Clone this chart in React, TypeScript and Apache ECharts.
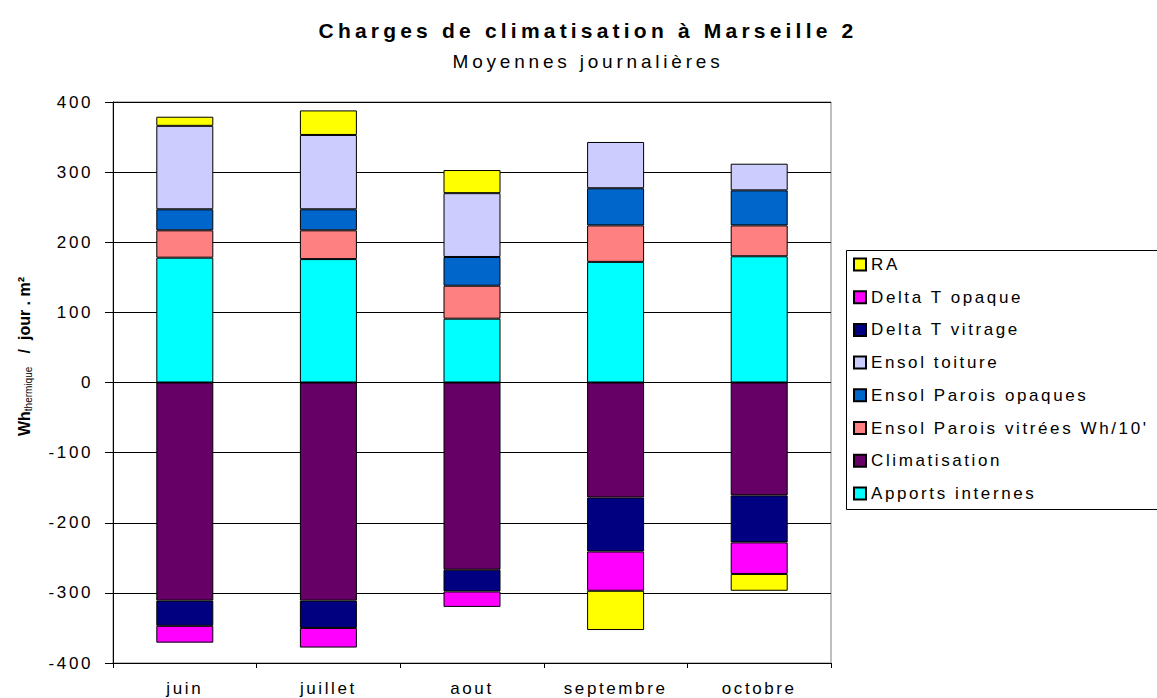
import React, { useEffect, useRef } from "react";
import * as echarts from "echarts";

const months = ["juin", "juillet", "aout", "septembre", "octobre"];
const yTicks = [-400, -300, -200, -100, 0, 100, 200, 300, 400];

const apportsInternes = [178, 176, 91, 172, 180];
const climatisation = [-311, -311, -267, -164, -161];
const ensolVitrees = [39, 41, 47, 52, 44];
const ensolOpaques = [30, 30, 41, 53, 50];
const ensolToiture = [119, 106, 91, 66, 38];
const deltaTVitrage = [-36, -39, -31, -77, -67];
const deltaTOpaque = [-24, -28, -22, -56, -45];
const ra = [13, 35, 33, -56, -24];

const seriesDefs = [
  { name: "Apports internes", data: apportsInternes, color: "#00FFFF" },
  { name: "Climatisation", data: climatisation, color: "#660066" },
  { name: "Ensol Parois vitrées Wh/10'", data: ensolVitrees, color: "#FF8080" },
  { name: "Ensol Parois opaques", data: ensolOpaques, color: "#0066CC" },
  { name: "Ensol toiture", data: ensolToiture, color: "#CCCCFF" },
  { name: "Delta T vitrage", data: deltaTVitrage, color: "#000080" },
  { name: "Delta T opaque", data: deltaTOpaque, color: "#FF00FF" },
  { name: "RA", data: ra, color: "#FFFF00" },
];

const FONT = "'Liberation Sans', Arial, sans-serif";

const css = `
.chart-host svg text[style*="21px"] { letter-spacing: 4.2px; }
.chart-host svg text[style*="19px"] { letter-spacing: 3.8px; }
.chart-host svg text[style*="17px"] { letter-spacing: 2.6px; }
`;

export default function App() {
  const ref = useRef<HTMLDivElement>(null);
  useEffect(() => {
    if (!ref.current) return;
    const chart = echarts.init(ref.current, null, { renderer: "svg" });
    chart.setOption({
      animation: false,
      backgroundColor: "#ffffff",
      textStyle: { fontFamily: FONT },
      title: {
        text: "Charges de climatisation à Marseille 2",
        subtext: "Moyennes journalières",
        left: 583,
        top: 15,
        textAlign: "center",
        itemGap: 11,
        textStyle: { fontFamily: FONT, fontSize: 21, fontWeight: "bold", color: "#000" },
        subtextStyle: { fontFamily: FONT, fontSize: 19, color: "#000" },
      },
      graphic: [
        {
          type: "rect",
          z: 0,
          shape: { x: 846.5, y: 250.5, width: 320, height: 259 },
          style: { fill: "#ffffff", stroke: "#000000", lineWidth: 1 },
        },
      ],
      legend: {
        orient: "vertical",
        left: 848,
        top: 251,
        itemWidth: 12,
        itemHeight: 12,
        itemGap: 15.7,
        icon: "rect",
        data: seriesDefs.map((s) => s.name).reverse(),
        textStyle: { fontFamily: FONT, fontSize: 17, color: "#000" },
      },
      grid: {
        left: 113,
        right: 326,
        top: 102,
        bottom: 35,
        show: true,
        borderColor: "#808080",
        borderWidth: 1,
      },
      xAxis: {
        type: "category",
        data: months,
        boundaryGap: true,
        axisLine: { onZero: false, lineStyle: { color: "#000", width: 1 } },
        axisTick: { show: true, length: 5, alignWithLabel: false, lineStyle: { color: "#000" } },
        axisLabel: { margin: 17, fontFamily: FONT, fontSize: 17, color: "#000" },
      },
      yAxis: {
        type: "value",
        min: yTicks[0],
        max: yTicks[yTicks.length - 1],
        interval: 100,
        axisLine: { show: true, lineStyle: { color: "#000", width: 1 } },
        axisTick: { show: true, length: 8, lineStyle: { color: "#000" } },
        axisLabel: { margin: 20, fontFamily: FONT, fontSize: 17, color: "#000" },
        splitLine: { show: true, lineStyle: { color: "#000", width: 1 } },
        name: "{b|Wh}{s|thermique}{b|\u00a0\u00a0\u00a0/\u00a0\u00a0jour . m²}",
        nameLocation: "middle",
        nameGap: 80,
        nameRotate: 90,
        nameTextStyle: {
          padding: [0, 0, 0, 52],
          rich: {
            b: { fontFamily: FONT, fontSize: 16, fontWeight: "bold", color: "#000" },
            s: { fontFamily: FONT, fontSize: 10, color: "#000", padding: [8, 0, 0, 0] },
          },
        },
      },
      series: seriesDefs.map((s) => ({
        name: s.name,
        type: "bar",
        stack: "total",
        stackStrategy: "samesign",
        barWidth: 57,
        data: s.data,
        itemStyle: { color: s.color, borderColor: "#000", borderWidth: 1 },
        emphasis: { disabled: true },
      })),
    });
    return () => chart.dispose();
  }, []);
  return (
    <>
      <style>{css}</style>
      <div
        ref={ref}
        className="chart-host"
        style={{ position: "fixed", left: 0, top: 0, width: 1157, height: 698 }}
      />
    </>
  );
}
